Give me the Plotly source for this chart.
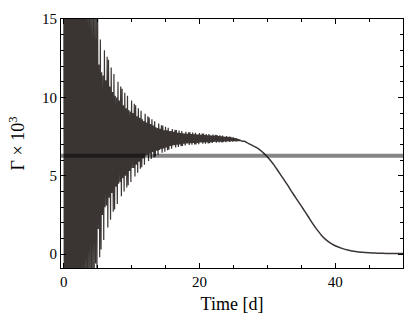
import plotly.graph_objects as go

# oscillating part: peak (hi) and trough (lo) of each 0.2 d cycle, t = 0 ... 26 d
hi = [22, 19, 23, 20, 21, 18, 22, 19, 20, 18, 21, 17.5, 19, 17, 18.5, 16.5, 18, 16, 17, 15.8,
      16.5, 15.2, 16, 15.0, 15.5,
      15.0, 12.1, 13.7, 11.6, 11.4, 13.0, 11.1, 12.6, 12.4, 10.7,
      11.9, 10.35, 11.5, 10.1, 10.0, 11.0, 9.8, 10.7, 10.55, 9.5,
      10.3, 9.3, 10.1, 9.2, 9.1, 9.8, 9.0, 9.6, 9.5, 8.8,
      9.3, 8.7, 9.15, 8.6, 8.5, 8.95, 8.4, 8.8, 8.72, 8.3,
      8.6, 8.2, 8.48, 8.1, 8.05, 8.33, 8.0, 8.23, 8.2, 7.9,
      8.12, 7.9, 8.06, 7.85, 7.85, 7.98, 7.8, 7.94, 7.92, 7.75,
      7.89, 7.73, 7.86, 7.71, 7.7, 7.8, 7.68, 7.78, 7.77, 7.66,
      7.76, 7.65, 7.75, 7.64, 7.63, 7.72, 7.62, 7.7, 7.69, 7.6,
      7.67, 7.59, 7.66, 7.58, 7.57, 7.63, 7.56, 7.61, 7.6, 7.54,
      7.58, 7.52, 7.56, 7.5, 7.49, 7.53, 7.47, 7.5, 7.48, 7.43,
      7.45, 7.4, 7.4, 7.36, 7.33, 7.3]
lo = [-8, -6, -7, -5, -7, -4.5, -6, -4, -5, -3.5, -4.5, -3, -4, -2.5, -3, -2, -2.5, -1.5, -2, -1.2,
      -1.5, -0.9, -1.2, -0.6, -1.0,
      1.6, -0.2, 0.3, 2.5, 0.9, 3.0, 3.1, 1.7, 3.6, 2.2,
      3.9, 2.7, 2.85, 4.3, 3.2, 4.5, 4.6, 3.7, 4.85, 4.0,
      5.0, 4.25, 4.4, 5.3, 4.6, 5.5, 5.5, 4.95, 5.7, 5.2,
      5.9, 5.45, 5.55, 6.1, 5.7, 6.3, 6.35, 5.95, 6.4, 6.07,
      6.5, 6.17, 6.22, 6.6, 6.32, 6.65, 6.7, 6.47, 6.75, 6.54,
      6.8, 6.63, 6.67, 6.9, 6.73, 6.93, 6.95, 6.8, 6.98, 6.84,
      7.0, 6.88, 6.9, 7.04, 6.94, 7.06, 7.07, 6.97, 7.08, 6.99,
      7.1, 7.0, 7.0, 7.1, 7.02, 7.12, 7.12, 7.04, 7.13, 7.05,
      7.14, 7.07, 7.08, 7.15, 7.09, 7.16, 7.17, 7.11, 7.17, 7.12,
      7.18, 7.13, 7.14, 7.19, 7.15, 7.2, 7.2, 7.16, 7.21, 7.18,
      7.21, 7.2, 7.2, 7.22, 7.22, 7.22]

# smooth decay after the oscillations
t_tail = [26.6, 27.0, 27.5, 28.0, 28.5, 29.0, 29.5, 30.0, 30.5, 31.0, 31.5, 32.0, 32.5, 33.0,
          33.5, 34.0, 34.5, 35.0, 35.5, 36.0, 36.5, 37.0, 37.5, 38.0, 38.5, 39.0, 39.5, 40.0,
          41.0, 42.0, 43.0, 44.0, 45.0, 46.0, 47.0, 48.0, 49.0, 50.0]
g_tail = [7.2, 7.12, 7.0, 6.89, 6.78, 6.62, 6.43, 6.21, 5.96, 5.68, 5.37, 5.04, 4.72, 4.40,
          4.05, 3.73, 3.40, 3.08, 2.75, 2.42, 2.08, 1.76, 1.47, 1.2, 0.98, 0.8, 0.66, 0.54,
          0.37, 0.25, 0.17, 0.12, 0.09, 0.07, 0.055, 0.05, 0.045, 0.04]

gamma_ref = 6.28

# cycle k: peak at 0.2k, trough half a cycle later
t_osc = []
g_osc = []
for k in range(len(hi)):
    t_osc += [0.2 * k, 0.2 * k + 0.1]
    g_osc += [hi[k], lo[k]]

col = '#3a3533'
fig = go.Figure()
fig.add_trace(go.Scatter(x=t_osc, y=g_osc, mode='lines', line=dict(color=col, width=1.2)))
fig.add_trace(go.Scatter(x=t_osc[-1:] + t_tail, y=g_osc[-1:] + g_tail, mode='lines',
                         line=dict(color=col, width=1.5, shape='spline', smoothing=0.8)))
fig.add_trace(go.Scatter(x=[-0.4, 50], y=[gamma_ref, gamma_ref], mode='lines',
                         line=dict(color='rgba(0,0,0,0.48)', width=4)))

font = dict(family='Liberation Serif', size=15, color='black')
fig.update_layout(
    width=416, height=330,
    margin=dict(l=61, r=13, t=19, b=62),
    plot_bgcolor='white', paper_bgcolor='white',
    showlegend=False, font=font,
)
fig.update_xaxes(
    range=[-0.4, 50], tickvals=[0, 20, 40], ticks='inside', ticklen=5, tickcolor='black',
    minor=dict(dtick=5, tick0=0, ticks='inside', ticklen=3, tickcolor='black'),
    showline=True, linecolor='black', linewidth=1, mirror='allticks',
    showgrid=False, zeroline=False,
    title=dict(text='Time [d]', standoff=8),
)
fig.update_yaxes(
    range=[-0.88, 15], tickvals=[0, 5, 10, 15], ticks='inside', ticklen=5, tickcolor='black',
    minor=dict(dtick=1, tick0=0, ticks='inside', ticklen=3, tickcolor='black'),
    showline=True, linecolor='black', linewidth=1, mirror='allticks',
    showgrid=False, zeroline=False,
    title=dict(text='Γ × 10<sup>3</sup>', standoff=12),
)

fig.write_html("out.html", config={'displayModeBar': False},
               post_script="document.body.style.margin='0px';")
